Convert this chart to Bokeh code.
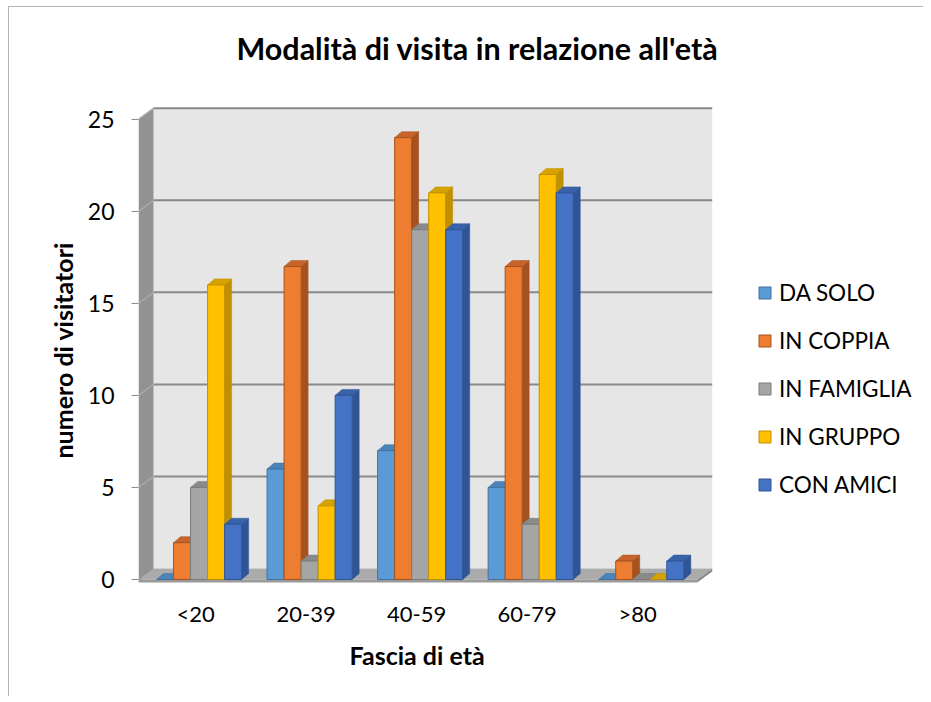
from bokeh.plotting import figure
from bokeh.models import (Range1d, FixedTicker, Legend, LegendItem, Title, Label,
                          ColumnDataSource)
from bokeh.embed import file_html
from bokeh.resources import INLINE

# ---------------- data ----------------
categories = ["<20", "20-39", "40-59", "60-79", ">80"]
series_names = ["DA SOLO", "IN COPPIA", "IN FAMIGLIA", "IN GRUPPO", "CON AMICI"]
da_solo = [0, 6, 7, 5, 0]
in_coppia = [2, 17, 24, 17, 1]
in_famiglia = [5, 1, 19, 3, 0]
in_gruppo = [16, 4, 21, 22, 0]
con_amici = [3, 10, 19, 21, 1]
y_ticks = [0, 5, 10, 15, 20, 25]

series_values = [da_solo, in_coppia, in_famiglia, in_gruppo, con_amici]

# ---------------- styles ----------------
front_cols = ["#5B9BD5", "#ED7D31", "#A5A5A5", "#FFC000", "#4472C4"]
top_cols = ["#4C84BA", "#C8642A", "#8A8A8A", "#D6A200", "#3A62AB"]
side_cols = ["#41719C", "#A5521E", "#7B7B7B", "#BF9000", "#2F5597"]
FONT = "Lato"

# geometry (pixels)
PXX = 110.4          # px per category unit
PXY = 18.41          # px per count unit
FRAME_W, FRAME_H = 785, 576
X0 = -57 / PXX       # data x at frame left
Y0 = -4 / PXY        # data y at frame bottom
WX, WY = 15 / PXX, 11 / PXY      # wall depth
BX, BY = 7 / PXX, 6 / PXY        # bar depth
BW = 17 / PXX                    # bar width
CL = -39 / PXX                   # cluster left offset
FLOOR_T = 3 / PXY
XR = X0 + 558 / PXX              # right end of floor (front)
YMAX = 25

p = figure(width=915, height=690, output_backend="svg", toolbar_location=None,
           title=None,
           x_range=Range1d(X0, X0 + FRAME_W / PXX),
           y_range=Range1d(Y0, Y0 + FRAME_H / PXY),
           min_border_left=129, min_border_right=0,
           min_border_top=0, min_border_bottom=114,
           background_fill_color="white", border_fill_color="white",
           outline_line_color=None,
           styles={"margin-left": "8px", "margin-top": "6px",
                   "border-left": "1px solid #b4b4b4",
                   "border-top": "1px solid #b4b4b4"})
p.grid.visible = False

# ---------- titles ----------
p.add_layout(Label(x=339, y=536, x_units="screen", y_units="screen",
                   text="Modalità di visita in relazione all'età",
                   text_font=FONT, text_font_style="bold",
                   text_font_size="30.5px", text_align="center",
                   text_baseline="middle", text_color="#000000"))

p.add_layout(Title(text="Fascia di età", align="left", offset=211, standoff=17,
                   text_font=FONT, text_font_style="bold",
                   text_font_size="25px", text_color="#000000"), "below")
p.add_layout(Title(text="numero di visitatori", align="left", offset=125,
                   standoff=14, text_font=FONT, text_font_style="bold",
                   text_font_size="25px", text_color="#000000"), "left")

# ---------- walls & floor ----------
p.quad(left=[X0 + WX], right=[XR + WX], bottom=[WY], top=[YMAX + WY],
       fill_color="#E6E6E6", line_color=None)
p.patch([X0, X0 + WX, X0 + WX, X0], [-FLOOR_T, WY - FLOOR_T, YMAX + WY, YMAX],
        fill_color="#929292", line_color=None)
for t in y_ticks[1:]:
    p.segment(x0=[X0 + WX], y0=[t + WY], x1=[XR + WX], y1=[t + WY],
              line_color="#898989", line_width=2)
    p.segment(x0=[X0], y0=[t], x1=[X0 + WX], y1=[t + WY],
              line_color="#a8a8a8", line_width=1.5)
p.patch([X0, XR, XR + WX, X0 + WX], [0, 0, WY, WY],
        fill_color="#ABABAB", line_color=None)
p.quad(left=[X0], right=[XR], bottom=[-FLOOR_T], top=[0],
       fill_color="#9A9A9A", line_color=None)
p.patch([XR, XR + WX, XR + WX, XR], [-FLOOR_T, WY - FLOOR_T, WY, 0],
        fill_color="#8A8A8A", line_color=None)

# ---------- bars ----------
legend_items = []
for j, (name, vals) in enumerate(zip(series_names, series_values)):
    lefts = [i + CL + j * BW for i in range(len(categories))]
    rights = [l + BW for l in lefts]
    side_xs = [[r, r + BX, r + BX, r] for r in rights]
    side_ys = [[0, BY, v + BY, v] for v in vals]
    top_xs = [[l, r, r + BX, l + BX] for l, r in zip(lefts, rights)]
    top_ys = [[v, v, v + BY, v + BY] for v in vals]
    p.patches(side_xs, side_ys, fill_color=side_cols[j], line_color=side_cols[j],
              line_width=0.5)
    p.patches(top_xs, top_ys, fill_color=top_cols[j], line_color=side_cols[j],
              line_width=0.5)
    src = ColumnDataSource(dict(left=lefts, right=rights, top=vals,
                                bottom=[0] * len(vals)))
    r = p.quad(left="left", right="right", top="top", bottom="bottom", source=src,
               fill_color=front_cols[j], line_color=side_cols[j], line_width=1)
    legend_items.append(LegendItem(label=name, renderers=[r]))

# ---------- axes ----------
p.yaxis.ticker = FixedTicker(ticks=y_ticks)
p.yaxis.axis_line_color = None
p.yaxis.major_tick_out = 7
p.yaxis.major_tick_in = 0
p.yaxis.minor_tick_line_color = None
p.yaxis.major_tick_line_color = "#8c8c8c"
p.yaxis.major_label_standoff = 17
p.yaxis.major_label_text_font = FONT
p.yaxis.major_label_text_font_size = "23px"
p.yaxis.major_label_text_color = "#000000"

p.xaxis.ticker = FixedTicker(ticks=list(range(len(categories))))
p.xaxis.major_label_overrides = {i: c for i, c in enumerate(categories)}
p.xaxis.axis_line_color = None
p.xaxis.major_tick_line_color = None
p.xaxis.minor_tick_line_color = None
p.xaxis.major_label_standoff = 10
p.xaxis.major_label_text_font = FONT
p.xaxis.major_label_text_font_size = "22px"
p.xaxis.major_label_text_color = "#000000"

# ---------- legend ----------
legend = Legend(items=legend_items, location=(619, 85), orientation="vertical",
                glyph_width=15, glyph_height=15, label_standoff=7,
                label_text_font=FONT, label_text_font_size="22.5px",
                label_text_color="#000000", spacing=21, padding=0, margin=0,
                border_line_color=None, background_fill_alpha=0)
p.add_layout(legend, "center")

open("out.html", "w").write(file_html(p, INLINE))
